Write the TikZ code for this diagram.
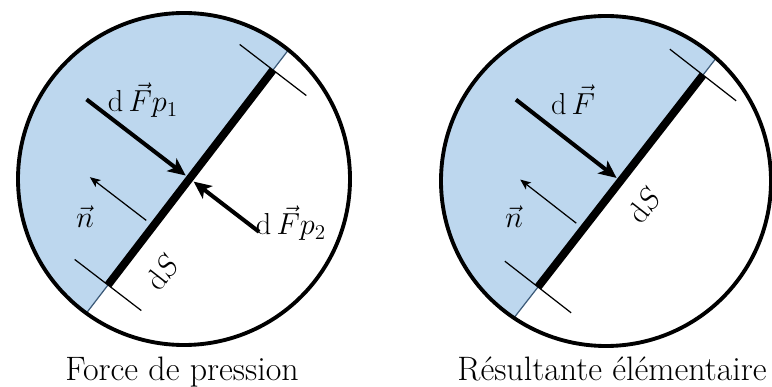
\documentclass[tikz,border=0pt]{standalone}
\usepackage{tikz}
\usetikzlibrary{arrows.meta,positioning,calc}
\definecolor{fluid}{HTML}{BDD7EE}
\definecolor{chordline}{HTML}{3C5A78}

\begin{document}
\begin{tikzpicture}[font=\fontsize{17}{20}\selectfont,line width=.7pt,
 force/.style={line width=2.3pt,-{Stealth[length=10pt,width=9pt,inset=2.5pt]}},
 normal/.style={line width=.7pt,-{Stealth[length=6pt,width=5pt,inset=1.5pt]}},
 tick/.style={line width=.7pt},
 caption/.style={anchor=base,font=\fontsize{19.3}{22}\selectfont}]
\useasboundingbox (0,0) rectangle (15.44,-7.74);
\foreach \i/\cx/\cy/\rad/\ax/\ay/\bx/\by in {1/3.68/-3.58/3.32/2.16/-5.70/5.46/-1.40,
 2/12.12/-3.62/3.30/10.76/-5.74/14.06/-1.50} {
 \coordinate (c\i) at (\cx,\cy);
 \coordinate (a\i) at (\ax,\ay); \coordinate (b\i) at (\bx,\by);
 \begin{scope}
  \clip (c\i) circle (\rad);
  \fill[fluid] ($(a\i)!-2!(b\i)$) -- ($(b\i)!-2!(a\i)$) -- ($(c\i)+(-10,10)$) -- cycle;
  \draw[tick,chordline] ($(a\i)!-1!(b\i)$) -- ($(b\i)!-1!(a\i)$);
 \end{scope}
 \draw[line width=2.2pt] (c\i) circle (\rad);
 \draw[tick] ($(a\i)!0.84cm!90:(b\i)$) -- ($(a\i)!0.84cm!-90:(b\i)$);
 \draw[tick] ($(b\i)!0.84cm!90:(a\i)$) -- ($(b\i)!0.84cm!-90:(a\i)$);
 \draw[line width=4.5pt] (a\i) -- (b\i);
 % normale
 \coordinate (n\i) at ($(a\i)!0.275!(b\i)$);
 \coordinate (ns\i) at ($(n\i)!0.18cm!90:(b\i)$);
 \coordinate (ne\i) at ($(n\i)!1.6cm!90:(b\i)$);
 \draw[normal] (ns\i) -- (ne\i);
}
% force de pression
\coordinate (m1) at ($(a1)!0.495!(b1)$);
\coordinate (p1s) at ($(m1)!2.6cm!90:(b1)$); \coordinate (p1e) at ($(m1)!0.1cm!90:(b1)$);
\coordinate (p2s) at ($(m1)!1.75cm!-90:(b1)$); \coordinate (p2e) at ($(m1)!0.1cm!-90:(b1)$);
\draw[force] (p1s) -- (p1e);
\draw[force] (p2s) -- (p2e);
\node (lp1) at (2.86,-2.00) {$\mathrm{d}\,\vec{F}p_{1}$};
\node (lp2) at (5.82,-4.46) {$\mathrm{d}\,\vec{F}p_{2}$};
\node (ln1) at (1.70,-4.34) {$\vec{n}$};
\node[rotate=52] (ls1) at (3.24,-5.44) {$\mathrm{d}S$};
\node[caption] (cap1) at (3.64,-7.60) {Force de pression};
% resultante
\coordinate (m2) at ($(a2)!0.5!(b2)$);
\coordinate (fs) at ($(m2)!2.65cm!90:(b2)$); \coordinate (fe) at ($(m2)!0.1cm!90:(b2)$);
\draw[force] (fs) -- (fe);
\node (lf2) at (11.46,-2.00) {$\mathrm{d}\,\vec{F}$};
\node (ln2) at (10.28,-4.34) {$\vec{n}$};
\node[rotate=52] (ls2) at (12.88,-4.10) {$\mathrm{d}S$};
\node[caption] (cap2) at (12.24,-7.60) {Résultante élémentaire};
\end{tikzpicture}
\end{document}
